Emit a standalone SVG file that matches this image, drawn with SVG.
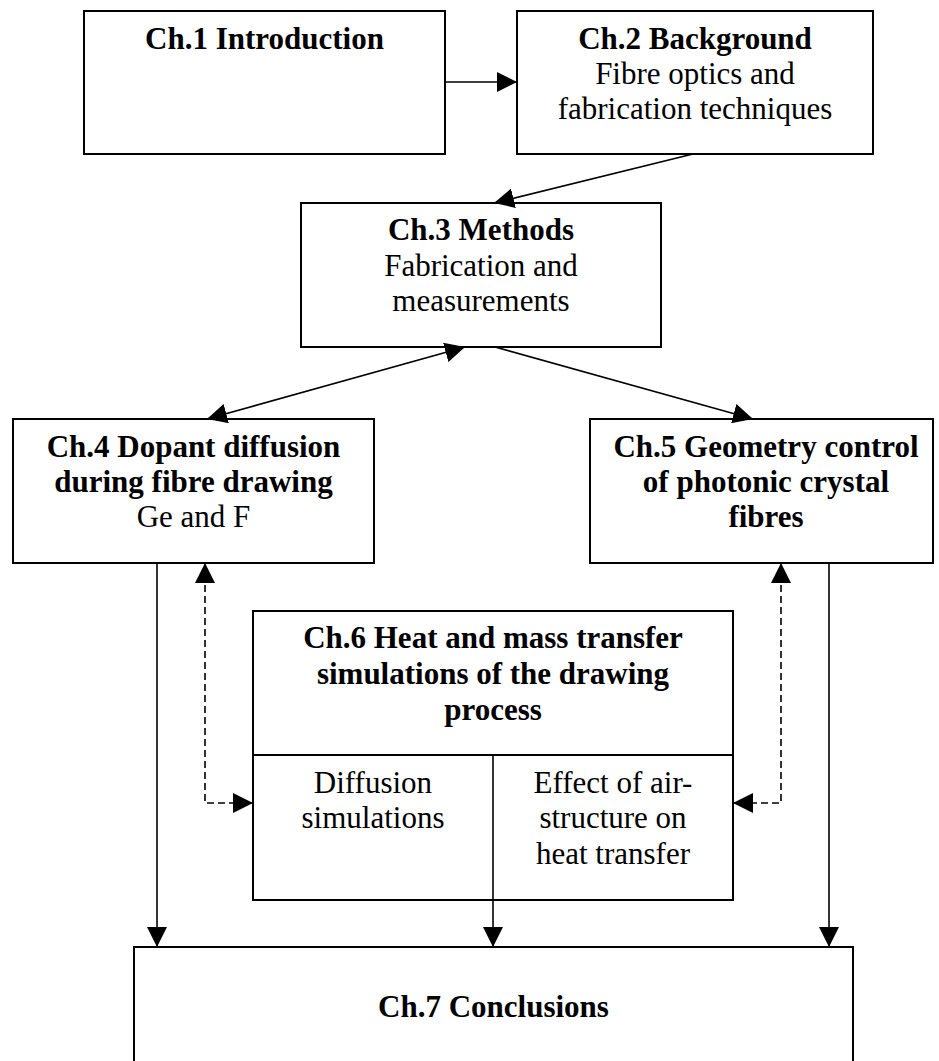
<svg xmlns="http://www.w3.org/2000/svg" width="939" height="1061" viewBox="0 0 939 1061">
<style>
.box{fill:#fff;stroke:#000;stroke-width:2}
.ln{fill:none;stroke:#000;stroke-width:1.6}
.dash{fill:none;stroke:#000;stroke-width:1.6;stroke-dasharray:7 4}
text{font-family:"Liberation Serif","Times New Roman",serif;font-size:31px;fill:#000;text-anchor:middle}
.b{font-weight:bold}
</style>
<defs>
<marker id="ah" markerUnits="userSpaceOnUse" markerWidth="20" markerHeight="20" viewBox="0 0 20 20" refX="20" refY="10" orient="auto-start-reverse">
<path d="M0,0 L20,10 L0,20 z" fill="#000"/>
</marker>
</defs>
<rect width="939" height="1061" fill="#fff"/>
<g id="ch1">
<rect class="box" x="84" y="11" width="361" height="143"/>
<text class="b" x="264.5" y="49">Ch.1 Introduction</text>
</g>
<g id="ch2">
<rect class="box" x="517" y="11" width="356" height="143"/>
<text class="b" x="695" y="49">Ch.2 Background</text>
<text x="695" y="84">Fibre optics and</text>
<text x="695" y="119">fabrication techniques</text>
</g>
<g id="ch3">
<rect class="box" x="301" y="203" width="360" height="144"/>
<text class="b" x="481" y="240">Ch.3 Methods</text>
<text x="481" y="276">Fabrication and</text>
<text x="481" y="311">measurements</text>
</g>
<g id="ch4">
<rect class="box" x="13" y="419" width="361" height="144"/>
<text class="b" x="193.5" y="457">Ch.4 Dopant diffusion</text>
<text class="b" x="193.5" y="492">during fibre drawing</text>
<text x="193.5" y="527">Ge and F</text>
</g>
<g id="ch5">
<rect class="box" x="590" y="419" width="343" height="144"/>
<text class="b" x="766" y="457">Ch.5 Geometry control</text>
<text class="b" x="766" y="492">of photonic crystal</text>
<text class="b" x="766" y="527">fibres</text>
</g>
<g id="ch6">
<rect class="box" x="253" y="611" width="480" height="289"/>
<line class="box" x1="253" y1="755" x2="733" y2="755"/>
<line class="ln" x1="493" y1="755" x2="493" y2="900"/>
<text class="b" x="493" y="648">Ch.6 Heat and mass transfer</text>
<text class="b" x="493" y="684">simulations of the drawing</text>
<text class="b" x="493" y="720">process</text>
<text x="373" y="793">Diffusion</text>
<text x="373" y="828">simulations</text>
<text x="613" y="793">Effect of air-</text>
<text x="613" y="828">structure on</text>
<text x="613" y="864">heat transfer</text>
</g>
<g id="ch7">
<rect class="box" x="134" y="947" width="719" height="140"/>
<text class="b" x="493.5" y="1017">Ch.7 Conclusions</text>
</g>
<g id="connectors">
<line class="ln" x1="445" y1="82" x2="517" y2="82" marker-end="url(#ah)"/>
<line class="ln" x1="693" y1="154" x2="494" y2="203" marker-end="url(#ah)"/>
<line class="ln" x1="465" y1="347" x2="207" y2="419" marker-start="url(#ah)" marker-end="url(#ah)"/>
<line class="ln" x1="495" y1="347" x2="753" y2="419" marker-end="url(#ah)"/>
<line class="ln" x1="157" y1="563" x2="157" y2="947" marker-end="url(#ah)"/>
<line class="ln" x1="829" y1="563" x2="829" y2="947" marker-end="url(#ah)"/>
<line class="ln" x1="493" y1="900" x2="493" y2="947" marker-end="url(#ah)"/>
<polyline class="dash" points="205,563 205,803 253,803" marker-start="url(#ah)" marker-end="url(#ah)"/>
<polyline class="dash" points="781,563 781,803 733,803" marker-start="url(#ah)" marker-end="url(#ah)"/>
</g>
</svg>
